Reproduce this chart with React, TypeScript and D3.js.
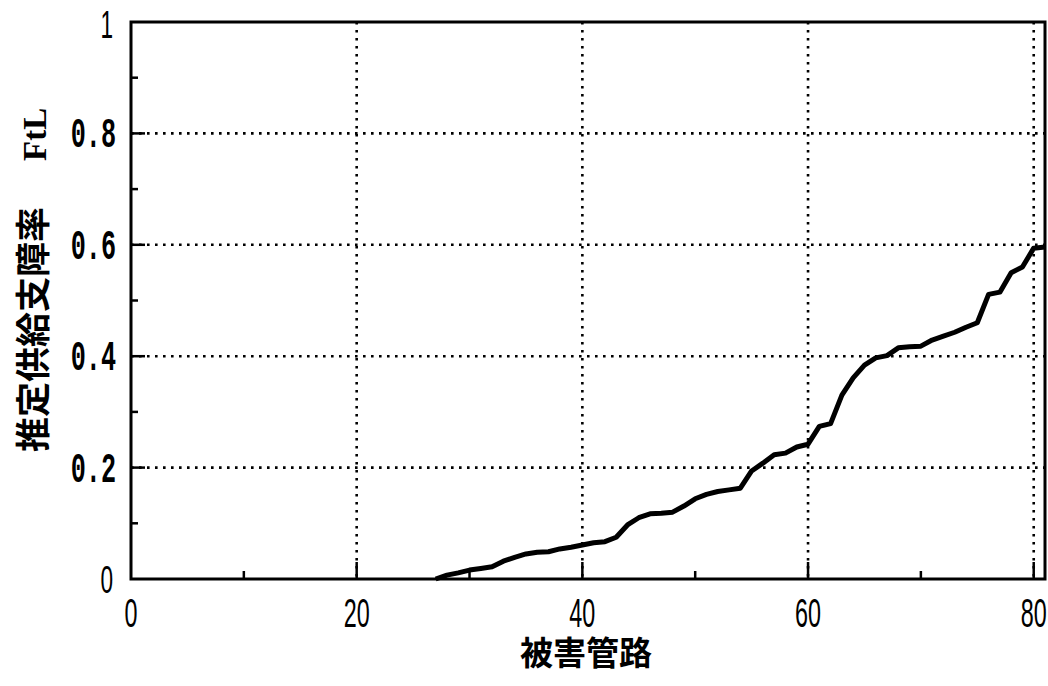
import { useEffect, useRef } from "react";
import * as d3 from "d3";

// 被害管路 (index) vs 推定供給支障率 FtL
const pipeIndex = [
  27, 28, 29, 30, 31, 32, 33, 34, 35, 36, 37, 38, 39, 40, 41, 42, 43, 44, 45, 46,
  47, 48, 49, 50, 51, 52, 53, 54, 55, 56, 57, 58, 59, 60, 61, 62, 63, 64, 65, 66,
  67, 68, 69, 70, 71, 72, 73, 74, 75, 76, 77, 78, 79, 80, 81,
];
const ftl = [
  0, 0.007, 0.011, 0.016, 0.019, 0.022, 0.032, 0.039, 0.045, 0.048, 0.049, 0.054,
  0.057, 0.061, 0.065, 0.067, 0.075, 0.097, 0.11, 0.117, 0.118, 0.12, 0.131, 0.144,
  0.152, 0.157, 0.16, 0.163, 0.194, 0.208, 0.223, 0.226, 0.237, 0.242, 0.274, 0.279,
  0.33, 0.361, 0.384, 0.397, 0.401, 0.415, 0.417, 0.418, 0.429, 0.436, 0.443, 0.452,
  0.46, 0.511, 0.515, 0.55, 0.56, 0.594, 0.596,
];
const xTickLabels = [0, 20, 40, 60, 80];
const yTickLabels = [0.2, 0.4, 0.6, 0.8];
const yEndLabels = [0, 1];
const xMinorTicks = [10, 30, 50, 70];
const yMinorTicks = [0.1, 0.3, 0.5, 0.7, 0.9];

const width = 1048;
const height = 686;

export default function App() {
  const svgRef = useRef<SVGSVGElement>(null);

  useEffect(() => {
    const svg = d3.select(svgRef.current);
    svg.selectAll("*").remove();

    const left = 131;
    const right = 1045;
    const top = 22;
    const bottom = 579;

    const x = d3.scaleLinear().domain([0, 81]).range([left, right]);
    const y = d3.scaleLinear().domain([0, 1]).range([bottom, top]);

    // dotted grid
    const grid = svg.append("g").attr("stroke", "#000").attr("stroke-width", 2.6)
      .attr("stroke-dasharray", "2.6,5.4");
    grid.selectAll("line.h").data(yTickLabels).join("line")
      .attr("x1", left).attr("x2", right)
      .attr("y1", (d) => y(d)).attr("y2", (d) => y(d));
    grid.selectAll("line.v").data([20, 40, 60, 80]).join("line")
      .attr("x1", (d) => x(d)).attr("x2", (d) => x(d))
      .attr("y1", top).attr("y2", bottom);

    // ticks (inward)
    const ticks = svg.append("g").attr("stroke", "#000").attr("stroke-width", 2.5);
    ticks.selectAll("line.xm").data([20, 40, 60, 80]).join("line")
      .attr("x1", (d) => x(d)).attr("x2", (d) => x(d))
      .attr("y1", bottom).attr("y2", bottom - 17);
    ticks.selectAll("line.xn").data(xMinorTicks).join("line")
      .attr("x1", (d) => x(d)).attr("x2", (d) => x(d))
      .attr("y1", bottom).attr("y2", bottom - 8);
    ticks.selectAll("line.ym").data(yTickLabels).join("line")
      .attr("x1", left).attr("x2", left + 14)
      .attr("y1", (d) => y(d)).attr("y2", (d) => y(d));
    ticks.selectAll("line.yn").data(yMinorTicks).join("line")
      .attr("x1", left).attr("x2", left + 7)
      .attr("y1", (d) => y(d)).attr("y2", (d) => y(d));

    // frame
    svg.append("rect")
      .attr("x", left).attr("y", top)
      .attr("width", right - left).attr("height", bottom - top)
      .attr("fill", "none").attr("stroke", "#000").attr("stroke-width", 3);

    // curve
    const line = d3.line<number>()
      .x((_, i) => x(pipeIndex[i]))
      .y((d) => y(d));
    svg.append("path")
      .datum(ftl)
      .attr("d", line)
      .attr("fill", "none")
      .attr("stroke", "#000")
      .attr("stroke-width", 5)
      .attr("stroke-linejoin", "round");

    // tick labels
    const narrow = "'Liberation Sans', Arimo, sans-serif";
    const mono = "'Liberation Mono', 'DejaVu Sans Mono', monospace";
    svg.append("g").selectAll("text").data(xTickLabels).join("text")
      .attr("transform", (d) => `translate(${x(d)},${bottom + 48}) scale(0.57,1)`)
      .attr("text-anchor", "middle")
      .attr("font-family", narrow)
      .attr("font-size", 41)
      .text((d) => String(d));
    svg.append("g").selectAll("text").data(yEndLabels).join("text")
      .attr("transform", (d) => `translate(${left - 18},${y(d) + (d === 0 ? 14 : 16)}) scale(0.58,1)`)
      .attr("text-anchor", "end")
      .attr("font-family", narrow)
      .attr("font-size", 39)
      .text((d) => String(d));
    svg.append("g").selectAll("text").data(yTickLabels).join("text")
      .attr("transform", (d) => `translate(${left - 15},${y(d) + 14}) scale(0.6,1)`)
      .attr("text-anchor", "end")
      .attr("font-family", mono)
      .attr("font-size", 42)
      .attr("font-weight", "bold")
      .text((d) => d.toFixed(1));

    // axis titles
    const cjk = "'Noto Sans CJK JP', sans-serif";
    svg.append("text")
      .attr("x", 586).attr("y", 665)
      .attr("text-anchor", "middle")
      .attr("font-family", cjk)
      .attr("font-size", 33)
      .attr("font-weight", "bold")
      .text("被害管路");
    const yt = svg.append("text")
      .attr("transform", "translate(46,452) rotate(-90)")
      .attr("font-family", cjk)
      .attr("font-weight", "bold");
    yt.append("tspan").attr("font-size", 35).text("推定供給支障率");
    yt.append("tspan").attr("font-size", 33).attr("dx", 46)
      .attr("font-family", "'Liberation Serif', serif").text("FtL");
  }, []);

  return (
    <svg
      ref={svgRef}
      width={width}
      height={height}
      style={{ position: "absolute", left: 0, top: 0, background: "#fff" }}
    />
  );
}
